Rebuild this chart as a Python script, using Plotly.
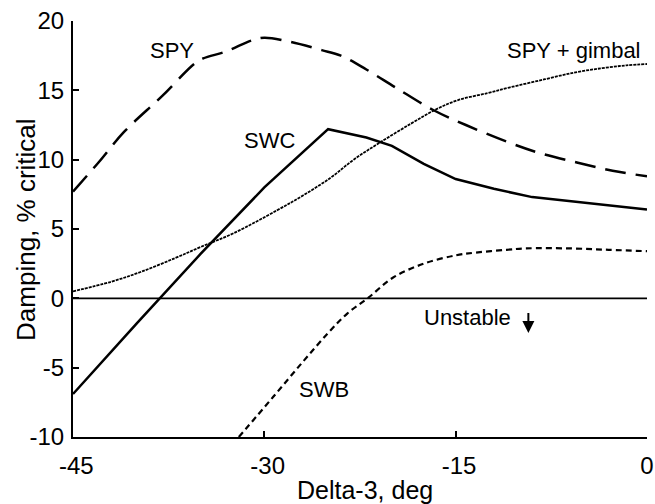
import plotly.graph_objects as go

# Damping vs delta-3 for each configuration
spy_x = [-45, -43, -41, -38, -35.5, -34.8, -33, -31, -30, -28, -25.5, -24, -22, -19.7, -16.8, -14.2, -11, -8.5, -5.5, -2.7, 0]
spy_y = [7.7, 9.8, 12.0, 14.6, 16.9, 17.3, 17.8, 18.6, 18.8, 18.5, 17.9, 17.5, 16.5, 15.2, 13.6, 12.5, 11.3, 10.5, 9.8, 9.2, 8.8]

swc_x = [-45, -40, -35, -30, -25, -22, -20, -17.5, -15, -12, -9, -5, 0]
swc_y = [-6.9, -1.8, 3.2, 8.0, 12.2, 11.6, 11.0, 9.7, 8.6, 7.9, 7.3, 6.9, 6.4]

gimbal_x = [-45, -42, -39.7, -37, -35, -32.4, -29, -27, -24.8, -23, -21, -18.5, -16.6, -14.8, -12.5, -10.8, -8, -5.6, -3.5, -1.6, 0]
gimbal_y = [0.5, 1.2, 1.9, 2.9, 3.7, 4.7, 6.35, 7.4, 8.7, 10.0, 11.2, 12.6, 13.6, 14.3, 14.8, 15.2, 15.8, 16.3, 16.6, 16.8, 16.9]

swb_x = [-32.0, -29.3, -27, -25, -23.5, -21.9, -19.9, -17.5, -15, -13.4, -11, -9.5, -6, -3, 0]
swb_y = [-10.0, -7.1, -4.6, -2.5, -1.1, 0.0, 1.5, 2.5, 3.1, 3.3, 3.5, 3.6, 3.6, 3.5, 3.4]

x_ticks = [-45, -30, -15, 0]
x_labels = ["\u00a0-45", "\u00a0-30", "\u00a0-15", "0"]
y_ticks = [-10, -5, 0, 5, 10, 15, 20]
y_labels = ["-10", "-5", "0", "5", "10", "15", "20"]

font = dict(family="Liberation Sans, Arial, sans-serif", size=22, color="black")

fig = go.Figure()
fig.add_trace(go.Scatter(x=spy_x, y=spy_y, mode="lines", line_shape="spline",
                         line=dict(color="black", width=2.5, dash="21px,10px")))
fig.add_trace(go.Scatter(x=swc_x, y=swc_y, mode="lines",
                         line=dict(color="black", width=2.5)))
fig.add_trace(go.Scatter(x=gimbal_x, y=gimbal_y, mode="lines", line_shape="spline",
                         line=dict(color="black", width=1.8, dash="3px,1px")))
fig.add_trace(go.Scatter(x=swb_x, y=swb_y, mode="lines", line_shape="spline",
                         line=dict(color="black", width=2.2, dash="6px,4px")))

# zero line
fig.add_hline(y=0, line=dict(color="black", width=1.8))

annots = [
    (-37.2, 17.9, "SPY"),
    (-29.6, 11.4, "SWC"),
    (-5.7, 17.9, "SPY + gimbal"),
    (-25.3, -6.6, "SWB"),
    (-14.05, -1.37, "Unstable"),
]
for ax, ay, txt in annots:
    fig.add_annotation(x=ax, y=ay, text=txt, showarrow=False, font=dict(size=22))

# "unstable" arrow
fig.add_annotation(x=-9.3, y=-2.5, ax=-9.3, ay=-0.95, axref="x", ayref="y",
                   text="", showarrow=True, arrowhead=2, arrowsize=1.2,
                   arrowwidth=2, arrowcolor="black")

# axis titles
fig.add_annotation(xref="paper", yref="paper", x=0.509, y=-0.127, text="Delta-3, deg",
                   xanchor="center", yanchor="middle", showarrow=False, font=dict(size=25))
fig.add_annotation(xref="paper", yref="paper", x=-0.082, y=0.50, text="Damping, % critical",
                   xanchor="center", yanchor="middle", textangle=-90, showarrow=False,
                   font=dict(size=26))

fig.update_layout(
    width=655, height=504, autosize=False,
    margin=dict(l=73, r=8, t=21, b=67),
    paper_bgcolor="white", plot_bgcolor="white",
    font=font, showlegend=False,
)
fig.update_xaxes(range=[-45, 0], tickvals=x_ticks, ticktext=x_labels, ticks="inside", ticklen=6,
                 tickwidth=1.5, tickcolor="black", showline=True, linecolor="black",
                 linewidth=2, showgrid=False, zeroline=False, tickfont=dict(size=24),
                 ticklabelstandoff=6, ticklabeloverflow="allow", automargin=False)
fig.update_yaxes(range=[-10, 20], tickvals=y_ticks, ticktext=y_labels, ticks="inside", ticklen=6,
                 tickwidth=1.5, tickcolor="black", showline=True, linecolor="black",
                 linewidth=2, showgrid=False, zeroline=False, tickfont=dict(size=24),
                 ticklabelstandoff=2, automargin=False)

fig.write_html("out.html", config={"responsive": False, "displayModeBar": False},
               post_script="document.body.style.margin='0';document.body.style.overflow='hidden';")
